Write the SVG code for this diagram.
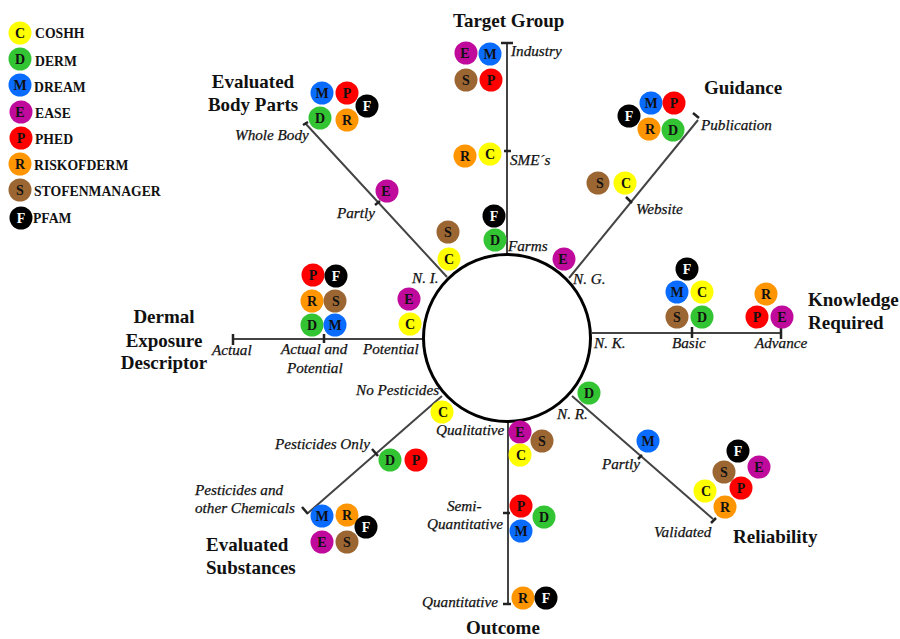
<svg xmlns="http://www.w3.org/2000/svg" width="900" height="639" viewBox="0 0 900 639">
<style>
text{font-family:"Liberation Serif",serif;fill:#111}
.t{font-size:19px;font-weight:bold}
.m{text-anchor:middle}
.l{font-size:15.2px;font-style:italic;stroke:#111;stroke-width:.25px}
.k{font-size:13.7px;font-weight:bold}
.g text{font-size:14px;font-weight:bold;text-anchor:middle}
.F text{fill:#fff}
.g circle{r:11.5px}
.C circle{fill:#ffff00}.D circle{fill:#33c433}.M circle{fill:#0a6cff}.E circle{fill:#bf0a9c}
.P circle{fill:#ff0000}.R circle{fill:#ff9500}.S circle{fill:#9c6633}.F circle{fill:#000}
.c{stroke:#444;stroke-width:2;fill:none}
.x{stroke:#222;stroke-width:2.5;fill:none}
</style>
<rect width="900" height="639" fill="#fff"/>
<g id="connectors">
<path class="c" d="M507 254V43M569 278L698 120M592 333H781M572 396L713 519M508 423V604M442 396L308 513M424 339H233M447 277L305 123"/>
<path class="x" d="M501 43H513M504 151H511M693 113L699 118M626 197L632 203M692 327V338M781 327V339M711 523L716 518M638 459L642 455M503 513H510M503 604H511M302 507L308 514M372 449L378 456M233 334V345M324 334V343M303 125L308 122M375 205L380 201"/>
</g>
<g id="hub"><circle cx="507" cy="338" r="83.5" fill="#fff" stroke="#000" stroke-width="3"/></g>
<g id="legend">
<g id="legend-c" class="g C"><circle cx="20" cy="33"/><text x="20" y="38">C</text></g><text class="k" x="35" y="38">COSHH</text>
<g id="legend-d" class="g D"><circle cx="20" cy="59"/><text x="20" y="64">D</text></g><text class="k" x="35" y="66">DERM</text>
<g id="legend-m" class="g M"><circle cx="20" cy="85"/><text x="20" y="90">M</text></g><text class="k" x="34" y="92">DREAM</text>
<g id="legend-e" class="g E"><circle cx="21" cy="112"/><text x="20" y="117">E</text></g><text class="k" x="35" y="118">EASE</text>
<g id="legend-p" class="g P"><circle cx="21" cy="138"/><text x="21" y="143">P</text></g><text class="k" x="35" y="144">PHED</text>
<g id="legend-r" class="g R"><circle cx="20" cy="164"/><text x="20" y="169">R</text></g><text class="k" x="34" y="170">RISKOFDERM</text>
<g id="legend-s" class="g S"><circle cx="20" cy="190"/><text x="20" y="195">S</text></g><text class="k" x="34" y="196">STOFENMANAGER</text>
<g id="legend-f" class="g F"><circle cx="21" cy="218"/><text x="21" y="223">F</text></g><text class="k" x="33" y="223">PFAM</text>
</g>
<g id="target-group">
<text class="t" x="453" y="27">Target Group</text>
<text class="l" x="511" y="56">Industry</text><text class="l" x="510" y="165">SME´s</text><text class="l" x="508" y="251">Farms</text>
<g class="g E"><circle cx="466" cy="53"/><text x="465" y="58">E</text></g>
<g class="g M"><circle cx="490" cy="54"/><text x="490" y="59">M</text></g>
<g class="g S"><circle cx="466" cy="80"/><text x="466" y="85">S</text></g>
<g class="g P"><circle cx="491" cy="80"/><text x="491" y="85">P</text></g>
<g class="g R"><circle cx="465" cy="156"/><text x="465" y="161">R</text></g>
<g class="g C"><circle cx="490" cy="154"/><text x="490" y="159">C</text></g>
<g class="g F"><circle cx="494" cy="216"/><text x="494" y="221">F</text></g>
<g class="g D"><circle cx="495" cy="240"/><text x="495" y="245">D</text></g>
</g>
<g id="guidance">
<text class="t" x="704" y="94">Guidance</text>
<text class="l" x="701" y="130">Publication</text><text class="l" x="636" y="214">Website</text><text class="l" x="573" y="284">N. G.</text>
<g class="g M"><circle cx="651" cy="103"/><text x="651" y="108">M</text></g>
<g class="g P"><circle cx="674" cy="103"/><text x="674" y="108">P</text></g>
<g class="g F"><circle cx="629" cy="116"/><text x="629" y="121">F</text></g>
<g class="g R"><circle cx="649" cy="129"/><text x="650" y="134">R</text></g>
<g class="g D"><circle cx="673" cy="130"/><text x="673" y="135">D</text></g>
<g class="g S"><circle cx="598" cy="183"/><text x="600" y="188">S</text></g>
<g class="g C"><circle cx="625" cy="183"/><text x="626" y="188">C</text></g>
<g class="g E"><circle cx="564" cy="259"/><text x="563" y="264">E</text></g>
</g>
<g id="knowledge-required">
<text class="t" x="808" y="306">Knowledge</text><text class="t" x="808" y="329">Required</text>
<text class="l" x="594" y="348">N. K.</text><text class="l" x="672" y="348">Basic</text><text class="l" x="755" y="348">Advance</text>
<g class="g F"><circle cx="687" cy="269"/><text x="687" y="274">F</text></g>
<g class="g M"><circle cx="677" cy="292"/><text x="677" y="297">M</text></g>
<g class="g C"><circle cx="702" cy="292"/><text x="702" y="297">C</text></g>
<g class="g S"><circle cx="677" cy="317"/><text x="677" y="322">S</text></g>
<g class="g D"><circle cx="702" cy="317"/><text x="702" y="322">D</text></g>
<g class="g R"><circle cx="766" cy="294"/><text x="766" y="299">R</text></g>
<g class="g P"><circle cx="757" cy="317"/><text x="757" y="322">P</text></g>
<g class="g E"><circle cx="782" cy="317"/><text x="782" y="322">E</text></g>
</g>
<g id="reliability">
<text class="t" x="733" y="543">Reliability</text>
<text class="l" x="557" y="419">N. R.</text><text class="l" x="602" y="469">Partly</text><text class="l" x="654" y="537">Validated</text>
<g class="g D"><circle cx="589" cy="393"/><text x="589" y="398">D</text></g>
<g class="g M"><circle cx="648" cy="441"/><text x="648" y="446">M</text></g>
<g class="g F"><circle cx="738" cy="451"/><text x="738" y="456">F</text></g>
<g class="g E"><circle cx="759" cy="467"/><text x="759" y="472">E</text></g>
<g class="g S"><circle cx="724" cy="472"/><text x="724" y="477">S</text></g>
<g class="g P"><circle cx="741" cy="488"/><text x="741" y="493">P</text></g>
<g class="g C"><circle cx="705" cy="491"/><text x="706" y="496">C</text></g>
<g class="g R"><circle cx="725" cy="507"/><text x="725" y="512">R</text></g>
</g>
<g id="outcome">
<text class="t" x="466" y="634">Outcome</text>
<text class="l" x="436" y="435">Qualitative</text><text class="l" x="447" y="511">Semi-</text><text class="l" x="427" y="529">Quantitative</text><text class="l" x="422" y="607">Quantitative</text>
<g class="g E"><circle cx="520" cy="432"/><text x="520" y="437">E</text></g>
<g class="g S"><circle cx="542" cy="441"/><text x="542" y="446">S</text></g>
<g class="g C"><circle cx="520" cy="455"/><text x="521" y="460">C</text></g>
<g class="g P"><circle cx="521" cy="506"/><text x="521" y="511">P</text></g>
<g class="g D"><circle cx="544" cy="517"/><text x="544" y="522">D</text></g>
<g class="g M"><circle cx="521" cy="531"/><text x="521" y="536">M</text></g>
<g class="g R"><circle cx="523" cy="598"/><text x="523" y="603">R</text></g>
<g class="g F"><circle cx="546" cy="598"/><text x="546" y="603">F</text></g>
</g>
<g id="evaluated-substances">
<text class="t" x="206" y="551">Evaluated</text><text class="t" x="206" y="574">Substances</text>
<text class="l" x="356" y="395">No Pesticides</text><text class="l" x="275" y="449">Pesticides Only</text><text class="l" x="195" y="495">Pesticides and</text><text class="l" x="195" y="513">other Chemicals</text>
<g class="g C"><circle cx="442" cy="412"/><text x="443" y="417">C</text></g>
<g class="g D"><circle cx="390" cy="460"/><text x="390" y="465">D</text></g>
<g class="g P"><circle cx="416" cy="460"/><text x="416" y="465">P</text></g>
<g class="g M"><circle cx="322" cy="516"/><text x="322" y="521">M</text></g>
<g class="g R"><circle cx="347" cy="515"/><text x="347" y="520">R</text></g>
<g class="g F"><circle cx="366" cy="527"/><text x="366" y="532">F</text></g>
<g class="g E"><circle cx="322" cy="542"/><text x="322" y="547">E</text></g>
<g class="g S"><circle cx="347" cy="542"/><text x="347" y="547">S</text></g>
</g>
<g id="dermal-exposure-descriptor">
<text class="t m" x="164" y="323">Dermal</text><text class="t m" x="164" y="347">Exposure</text><text class="t m" x="164" y="369">Descriptor</text>
<text class="l" x="212" y="355">Actual</text><text class="l" x="281" y="354">Actual and</text><text class="l" x="287" y="373">Potential</text><text class="l" x="363" y="354">Potential</text>
<g class="g P"><circle cx="313" cy="275"/><text x="313" y="280">P</text></g>
<g class="g F"><circle cx="336" cy="276"/><text x="336" y="281">F</text></g>
<g class="g R"><circle cx="312" cy="301"/><text x="312" y="306">R</text></g>
<g class="g S"><circle cx="335" cy="301"/><text x="336" y="306">S</text></g>
<g class="g D"><circle cx="312" cy="325"/><text x="312" y="330">D</text></g>
<g class="g M"><circle cx="335" cy="325"/><text x="335" y="330">M</text></g>
<g class="g E"><circle cx="409" cy="299"/><text x="409" y="304">E</text></g>
<g class="g C"><circle cx="410" cy="324"/><text x="410" y="329">C</text></g>
</g>
<g id="evaluated-body-parts">
<text class="t m" x="253" y="88">Evaluated</text><text class="t m" x="253" y="111">Body Parts</text>
<text class="l" x="235" y="140">Whole Body</text><text class="l" x="337" y="218">Partly</text><text class="l" x="412" y="283">N. I.</text>
<g class="g M"><circle cx="322" cy="93"/><text x="322" y="98">M</text></g>
<g class="g P"><circle cx="347" cy="93"/><text x="347" y="98">P</text></g>
<g class="g F"><circle cx="367" cy="106"/><text x="367" y="111">F</text></g>
<g class="g D"><circle cx="320" cy="118"/><text x="320" y="123">D</text></g>
<g class="g R"><circle cx="347" cy="120"/><text x="347" y="125">R</text></g>
<g class="g E"><circle cx="387" cy="191"/><text x="386" y="196">E</text></g>
<g class="g S"><circle cx="448" cy="232"/><text x="448" y="237">S</text></g>
<g class="g C"><circle cx="449" cy="259"/><text x="449" y="264">C</text></g>
</g>
</svg>
